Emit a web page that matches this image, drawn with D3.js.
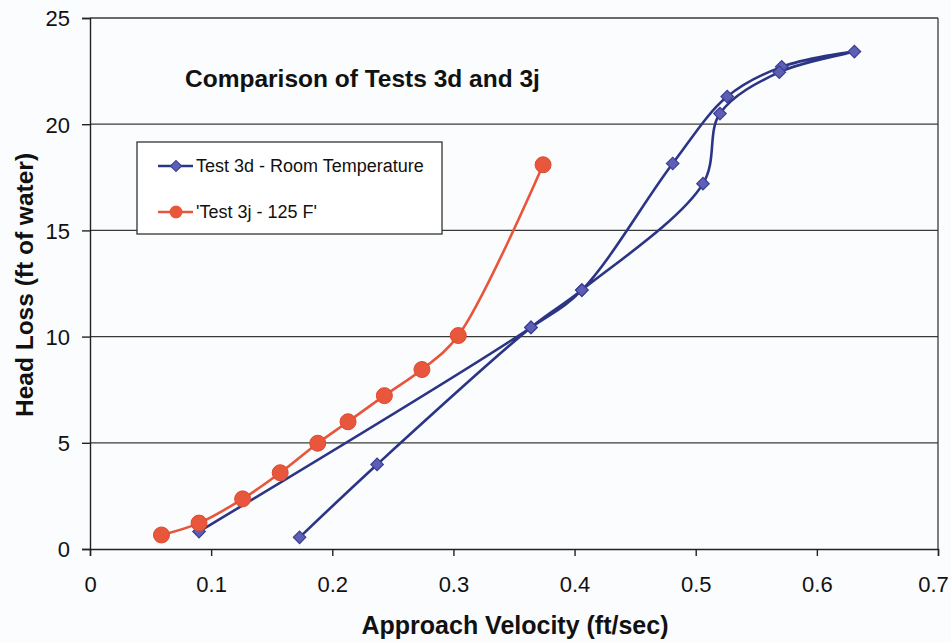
<!DOCTYPE html>
<html>
<head>
<meta charset="utf-8">
<script src="https://cdn.jsdelivr.net/npm/d3@7"></script>
<style>
    body { margin: 0; background: #fafcfd; }
    svg { display: block; }
</style>
</head>
<body>
<div id="chart"></div>
<script>
// data
const xTicks = [0, 0.1, 0.2, 0.3, 0.4, 0.5, 0.6, 0.7];
const yTicks = [0, 5, 10, 15, 20, 25];

// Test 3d, in the order the points were joined (velocity up, then back down)
const test3dVelocity = [0.090, 0.364, 0.406, 0.481, 0.526, 0.571, 0.631, 0.569, 0.520, 0.506, 0.406, 0.364, 0.237, 0.173];
const test3dHeadLoss = [0.82, 10.43, 12.19, 18.15, 21.3, 22.7, 23.42, 22.45, 20.5, 17.2, 12.19, 10.43, 3.98, 0.55];

// Test 3j
const test3jVelocity = [0.059, 0.090, 0.126, 0.157, 0.188, 0.213, 0.243, 0.274, 0.304, 0.374];
const test3jHeadLoss = [0.66, 1.22, 2.36, 3.59, 4.98, 5.99, 7.22, 8.45, 10.05, 18.09];

const seriesNames = ["Test 3d - Room Temperature", "'Test 3j - 125 F'"];

class head_loss_chart {

    constructor(parentElement){
        this.parentElement = parentElement;
        this.initVis();
    }

    initVis(){
        let vis = this;

        vis.margin = {top: 18, right: 13, bottom: 93, left: 90};
        vis.totalWidth = 951;
        vis.totalHeight = 642;
        vis.width = vis.totalWidth - vis.margin.left - vis.margin.right;
        vis.height = vis.totalHeight - vis.margin.top - vis.margin.bottom;

        vis.svg = d3.select("#" + vis.parentElement).append("svg")
            .attr("width", vis.totalWidth)
            .attr("height", vis.totalHeight)
            .style("font-family", "'Liberation Sans', Arial, sans-serif")
            .append("g")
            .attr("transform", `translate(${vis.margin.left}, ${vis.margin.top})`);

        vis.xScale = d3.scaleLinear().domain([0, 0.7]).range([0, vis.width]);
        vis.yScale = d3.scaleLinear().domain([0, 25]).range([vis.height, 0]);

        // horizontal gridlines
        vis.svg.append("g")
            .attr("class", "grid")
            .selectAll("line")
            .data(yTicks.filter(d => d > 0))
            .enter().append("line")
            .attr("x1", 0)
            .attr("x2", vis.width)
            .attr("y1", d => vis.yScale(d))
            .attr("y2", d => vis.yScale(d))
            .attr("stroke", "#3a3a3a")
            .attr("stroke-width", 1.3);

        // right border
        vis.svg.append("line")
            .attr("x1", vis.width).attr("x2", vis.width)
            .attr("y1", 0).attr("y2", vis.height)
            .attr("stroke", "#3a3a3a")
            .attr("stroke-width", 1.3);

        // axes
        vis.xAxis = d3.axisBottom(vis.xScale)
            .tickValues(xTicks)
            .tickSize(7)
            .tickPadding(20)
            .tickFormat(d => d === 0 ? "0" : d3.format(".1f")(d));
        vis.yAxis = d3.axisLeft(vis.yScale)
            .tickValues(yTicks)
            .tickSize(8)
            .tickPadding(12);

        vis.svg.append("g")
            .attr("class", "x-axis axis")
            .attr("transform", `translate(0, ${vis.height})`)
            .call(vis.xAxis);
        vis.svg.append("g")
            .attr("class", "y-axis axis")
            .call(vis.yAxis);

        vis.svg.selectAll(".axis path, .axis line")
            .attr("stroke", "#222")
            .attr("stroke-width", 1.4);
        vis.svg.selectAll(".axis text")
            .attr("fill", "#111")
            .style("font-size", "22px");
        vis.svg.select(".y-axis").selectAll("text").attr("dy", "0.36em");
        // last label sits at the page edge, nudge it in
        vis.svg.select(".x-axis").selectAll("text")
            .filter(d => d === 0.7)
            .attr("x", -5);

        // axis labels
        vis.svg.append("text")
            .text("Approach Velocity (ft/sec)")
            .attr("x", 515 - vis.margin.left)
            .attr("y", vis.height + 85)
            .attr("text-anchor", "middle")
            .style("font-weight", "bold")
            .style("font-size", "25px")
            .attr("fill", "#111");
        vis.svg.append("text")
            .text("Head Loss (ft of water)")
            .attr("transform", `translate(${33 - vis.margin.left}, ${285 - vis.margin.top}) rotate(-90)`)
            .attr("text-anchor", "middle")
            .style("font-weight", "bold")
            .style("font-size", "24.5px")
            .attr("fill", "#111");

        // title
        vis.svg.append("text")
            .text("Comparison of Tests 3d and 3j")
            .attr("x", 185 - vis.margin.left)
            .attr("y", 87 - vis.margin.top)
            .style("font-weight", "bold")
            .style("font-size", "24.5px")
            .attr("fill", "#111");

        vis.wrangleData();
    }

    wrangleData(){
        let vis = this;

        vis.test3d = test3dVelocity.map((v, i) => ({velocity: v, headLoss: test3dHeadLoss[i]}));
        vis.test3j = test3jVelocity.map((v, i) => ({velocity: v, headLoss: test3jHeadLoss[i]}));

        vis.updateVis();
    }

    updateVis(){
        let vis = this;

        vis.line = d3.line()
            .x(d => vis.xScale(d.velocity))
            .y(d => vis.yScale(d.headLoss))
            .curve(d3.curveCatmullRom.alpha(0.5));

        let diamond = d3.symbol().type(d3.symbolSquare).size(78);

        // Test 3d - blue diamonds
        vis.svg.append("path")
            .datum(vis.test3d)
            .attr("fill", "none")
            .attr("stroke", "#2c3585")
            .attr("stroke-width", 2.6)
            .attr("d", vis.line);
        vis.svg.append("g")
            .selectAll("path")
            .data(vis.test3d)
            .enter().append("path")
            .attr("d", diamond)
            .attr("transform", d => `translate(${vis.xScale(d.velocity)}, ${vis.yScale(d.headLoss)}) rotate(45)`)
            .attr("fill", "#5d5fb4")
            .attr("stroke", "#3a3f95")
            .attr("stroke-width", 1.2);

        // Test 3j - red circles
        vis.svg.append("path")
            .datum(vis.test3j)
            .attr("fill", "none")
            .attr("stroke", "#e8553a")
            .attr("stroke-width", 2.6)
            .attr("d", vis.line);
        vis.svg.append("g")
            .selectAll("circle")
            .data(vis.test3j)
            .enter().append("circle")
            .attr("cx", d => vis.xScale(d.velocity))
            .attr("cy", d => vis.yScale(d.headLoss))
            .attr("r", 8)
            .attr("fill", "#e8573c")
            .attr("stroke", "#dc4b31")
            .attr("stroke-width", 1);

        // legend
        let legend = vis.svg.append("g")
            .attr("class", "legend")
            .attr("transform", `translate(${137 - vis.margin.left}, ${142 - vis.margin.top})`);
        legend.append("rect")
            .attr("width", 305)
            .attr("height", 92)
            .attr("fill", "#ffffff")
            .attr("stroke", "#333")
            .attr("stroke-width", 1.3);

        let colors = ["#2c3585", "#e8553a"];
        seriesNames.forEach(function (name, i) {
            let y = 24 + i * 46;
            legend.append("line")
                .attr("x1", 21).attr("x2", 56)
                .attr("y1", y).attr("y2", y)
                .attr("stroke", colors[i])
                .attr("stroke-width", 2.6);
            if (i === 0) {
                legend.append("path")
                    .attr("d", d3.symbol().type(d3.symbolSquare).size(60))
                    .attr("transform", `translate(39, ${y}) rotate(45)`)
                    .attr("fill", "#5d5fb4")
                    .attr("stroke", "#3a3f95")
                    .attr("stroke-width", 1.2);
            } else {
                legend.append("circle")
                    .attr("cx", 39).attr("cy", y)
                    .attr("r", 6.5)
                    .attr("fill", "#e8573c");
            }
            legend.append("text")
                .text(name)
                .attr("x", 59)
                .attr("y", y + 6)
                .style("font-size", "18px")
                .attr("fill", "#111");
        });
    }
}

let main_chart = new head_loss_chart("chart");
</script>
</body>
</html>
